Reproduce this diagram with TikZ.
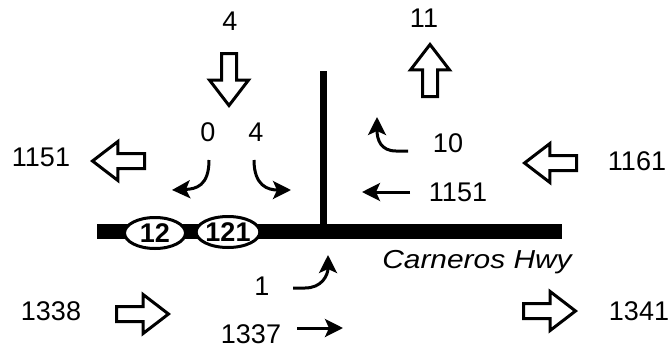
\documentclass[tikz,border=0pt]{standalone}
\usepackage{fontspec}
\setmainfont{Liberation Sans}
\usetikzlibrary{arrows.meta,shapes.geometric,shapes.arrows}
\newcommand{\cntfont}{\fontsize{27}{32}\selectfont}
\newcommand{\shldfont}{\fontsize{27}{32}\selectfont\bfseries}
\tikzset{
  road/.style={line width=15pt},
  sideroad/.style={line width=7pt},
  shield/.style={ellipse,draw,line width=3pt,fill=white,minimum width=61pt,minimum height=31pt,
    inner sep=0pt,font=\shldfont},
  countlbl/.style={font=\cntfont,inner sep=0pt},
  bigarrow/.style={single arrow,draw,line width=3pt,fill=white,inner sep=6pt,
    single arrow head extend=12pt,single arrow tip angle=75,minimum height=52pt,anchor=tail},
  movearrow/.style={-{Stealth[length=18pt,width=18pt,inset=4pt]},line width=3pt}
}
\begin{document}
\begin{tikzpicture}[x=1pt,y=-1pt]
  \useasboundingbox (0,0) rectangle (668,348);
  % roads
  \draw[road] (97,231) -- (562,231);
  \draw[sideroad] (323,71) -- (323,231);
  \node[shield] (sh12) at (155,233) {12};
  \node[shield] (sh121) at (228,232) {121};
  \node[font=\fontsize{26}{30}\selectfont\itshape,inner sep=0pt,xscale=1.15] (hwy) at (477,262) {Carneros Hwy};
  % approach totals
  \node[countlbl] (nin) at (230,21) {4};
  \node[bigarrow,shape border rotate=270] (nina) at (229,52) {};
  \node[countlbl] (nout) at (424,18) {11};
  \node[bigarrow,shape border rotate=90] (nouta) at (430,98) {};
  \node[countlbl] (wout) at (41,157) {1151};
  \node[bigarrow,shape border rotate=180] (wouta) at (146,161) {};
  \node[countlbl] (ein) at (637,161) {1161};
  \node[bigarrow,shape border rotate=180] (eina) at (578,163) {};
  \node[countlbl] (win) at (51,311) {1338};
  \node[bigarrow] (wina) at (115,314) {};
  \node[countlbl] (eout) at (639,311) {1341};
  \node[bigarrow] (eouta) at (522,311) {};
  % turning movements
  \node[countlbl] (sr) at (208,132) {0};
  \node[countlbl] (sl) at (256,132) {4};
  \node[countlbl] (wl) at (448,143) {10};
  \node[countlbl] (wt) at (458,192) {1151};
  \node[countlbl] (er) at (262,286) {1};
  \node[countlbl] (et) at (251,334) {1337};
  \coordinate (srs) at (209,160); \coordinate (sre) at (172,190);
  \coordinate (sls) at (254,160); \coordinate (sle) at (291,190);
  \coordinate (wls) at (408,151); \coordinate (wle) at (377,117);
  \coordinate (wts) at (410,192); \coordinate (wte) at (362,192);
  \coordinate (ers) at (293,288); \coordinate (ere) at (328,255);
  \coordinate (ets) at (297,328); \coordinate (ete) at (343,328);
  \draw[movearrow] (srs) .. controls (209,186) and (196,189) .. (sre);
  \draw[movearrow] (sls) .. controls (254,186) and (268,190) .. (sle);
  \draw[movearrow] (wls) -- (396,151) .. controls (381,151) and (377,140) .. (wle);
  \draw[movearrow] (wts) -- (wte);
  \draw[movearrow] (ers) -- (305,288) .. controls (322,288) and (328,275) .. (ere);
  \draw[movearrow] (ets) -- (ete);
\end{tikzpicture}
\end{document}
